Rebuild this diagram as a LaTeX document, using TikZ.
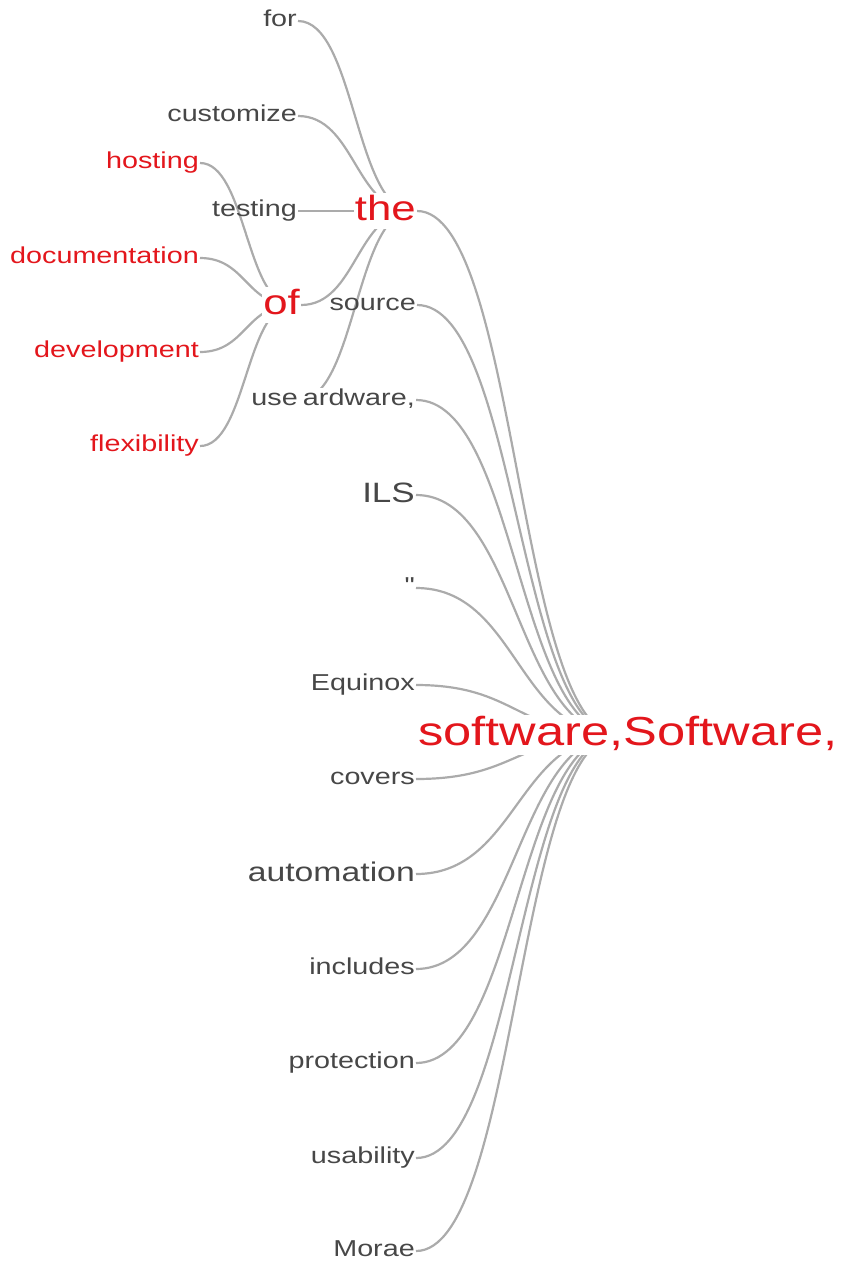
\documentclass[tikz,border=0pt]{standalone}
\usepackage{fontspec}
\setmainfont{Liberation Sans}[FakeStretch=1.25]
\newfontfamily\qfont{Liberation Sans}[FakeStretch=1.25]
\usetikzlibrary{calc}
\definecolor{wgray}{HTML}{474747}
\definecolor{wred}{HTML}{E3161C}
\definecolor{lgray}{HTML}{ABABAB}
\pgfdeclarelayer{bg}
\pgfsetlayers{bg,main}
\tikzset{
  lbl/.style={anchor=east, inner xsep=1pt, inner ysep=1pt, text=wgray,
    font=\fontsize{23}{23}\selectfont, text height=17pt, text depth=5.06pt},
  rlbl/.style={lbl, text=wred},
  big/.style={font=\fontsize{35}{35}\selectfont, text height=25.9pt, text depth=7.7pt},
  ils/.style={font=\fontsize{28}{28}\selectfont, text height=20.7pt, text depth=6.16pt},
  auto/.style={font=\fontsize{27}{27}\selectfont, text height=20pt, text depth=5.94pt},
  rootsz/.style={font=\fontsize{40.5}{40.5}\selectfont, text height=30pt, text depth=8.9pt},
  opaque/.style={fill=white},
  link/.style={draw=lgray, line width=2.2pt},
}
\newcommand\wlink[2]{\draw[link] let \p1=(#1), \p2=(#2) in (\p1) .. controls ({(\x1+\x2)/2},\y1) and ({(\x1+\x2)/2},\y2) .. (\p2);}
\begin{document}
\begin{tikzpicture}[x=1pt,y=-1pt]
\useasboundingbox (0,0) rectangle (843,1267);
% nodes
\node[lbl] (for) at (298,21) {for};
\node[lbl] (customize) at (298,116) {customize};
\node[rlbl] (hosting) at (200,163) {hosting};
\node[lbl] (testing) at (298,211) {testing};
\node[rlbl,big,opaque] (the) at (417,211) {the};
\node[rlbl] (documentation) at (200,258) {documentation};
\node[rlbl,big,opaque] (of) at (301,305) {of};
\node[lbl] (source) at (417,305) {source};
\node[rlbl] (development) at (200,352) {development};
\node[lbl,opaque] (hardware) at (416,400) {\hphantom{h}ardware,};
\node[lbl,opaque] (use) at (299,400) {use};
\node[rlbl] (flexibility) at (200,446) {flexibility};
\node[lbl,ils] (ILS) at (416,495) {ILS};
\node[lbl] (quote) at (416,588) {\qfont"};
\node[lbl] (equinox) at (416,685) {Equinox};
\node[rlbl,rootsz,anchor=west,opaque] (root) at (417,735) {software,Software,};
\node[lbl] (covers) at (416,779) {covers};
\node[lbl,auto] (automation) at (416,874) {automation};
\node[lbl] (includes) at (416,969) {includes};
\node[lbl] (protection) at (416,1063) {protection};
\node[lbl] (usability) at (416,1158) {usability};
\node[lbl] (morae) at (416,1251) {Morae};
% link targets inside parent words
\coordinate (rootIn) at (618,735);
\coordinate (theIn) at (412,211);
\coordinate (ofIn) at (292,305);
\begin{pgfonlayer}{bg}
\wlink{for.east}{theIn}
\wlink{customize.east}{theIn}
\wlink{testing.east}{theIn}
\wlink{of.east}{theIn}
\wlink{use.east}{theIn}
\wlink{hosting.east}{ofIn}
\wlink{documentation.east}{ofIn}
\wlink{development.east}{ofIn}
\wlink{flexibility.east}{ofIn}
\wlink{the.east}{rootIn}
\wlink{source.east}{rootIn}
\wlink{hardware.east}{rootIn}
\wlink{ILS.east}{rootIn}
\wlink{quote.east}{rootIn}
\wlink{equinox.east}{rootIn}
\wlink{covers.east}{rootIn}
\wlink{automation.east}{rootIn}
\wlink{includes.east}{rootIn}
\wlink{protection.east}{rootIn}
\wlink{usability.east}{rootIn}
\wlink{morae.east}{rootIn}
\end{pgfonlayer}
\end{tikzpicture}
\end{document}
